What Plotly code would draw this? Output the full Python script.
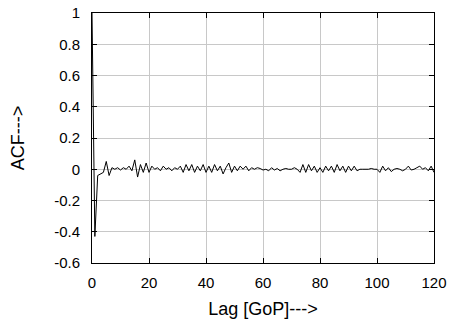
import plotly.graph_objects as go

lags = list(range(0, 121))
acf = [
    1.0, -0.43, -0.04, -0.03, -0.02, 0.05, -0.04, 0.01, 0.0, 0.01,
    -0.005, 0.01, 0.0, 0.02, -0.01, 0.06, -0.05, 0.03, -0.02, 0.04,
    -0.02, 0.02, 0.0, 0.01, -0.01, 0.02, 0.0, 0.01, -0.01, 0.01,
    0.0, 0.02, -0.02, 0.03, -0.01, 0.03, -0.02, 0.02, -0.01, 0.03,
    -0.02, 0.02, -0.02, 0.03, -0.01, 0.02, -0.03, 0.01, 0.04, -0.02,
    0.02, -0.01, 0.02, 0.0, 0.02, -0.01, 0.01, 0.0, 0.01, 0.005,
    -0.005, 0.0, -0.01, 0.01, -0.005, 0.005, -0.01, 0.0, 0.005, 0.0,
    0.0, 0.01, 0.0, -0.02, 0.03, -0.02, 0.03, -0.01, 0.02, -0.02,
    0.01, -0.02, 0.02, -0.01, 0.02, -0.02, 0.03, -0.01, 0.02, -0.02,
    0.02, -0.01, 0.02, -0.01, 0.0, 0.0, 0.0, 0.0, 0.005, 0.0,
    0.0, -0.02, 0.02, -0.01, 0.01, -0.015, 0.0, 0.005, 0.0, -0.01,
    0.0, 0.02, -0.005, 0.0, 0.01, 0.02, 0.0, 0.01, -0.01, 0.02, -0.02,
]
xticks = [0, 20, 40, 60, 80, 100, 120]
yticks = [-0.6, -0.4, -0.2, 0, 0.2, 0.4, 0.6, 0.8, 1]
ytick_labels = ["-0.6", "-0.4", "-0.2", "0", "0.2", "0.4", "0.6", "0.8", "1"]

FONT = "Liberation Sans, Arial"

fig = go.Figure()
fig.add_trace(go.Scatter(x=lags, y=acf, mode="lines",
                         line=dict(color="black", width=1), showlegend=False))

axis_common = dict(showgrid=True, gridcolor="#c8c8c8", gridwidth=1,
                   showline=True, linecolor="black", linewidth=1, mirror="ticks",
                   ticks="inside", ticklen=5, tickcolor="black", zeroline=False,
                   automargin=False,
                   tickfont=dict(family=FONT, size=15, color="black"))

fig.update_layout(
    width=452, height=324,
    margin=dict(l=92, r=18, t=13, b=61),
    paper_bgcolor="white", plot_bgcolor="white",
    font=dict(family=FONT, size=15, color="black"),
    xaxis=dict(range=[0, 120], tickvals=xticks, ticklabelstandoff=6,
               title=dict(text="Lag [GoP]--->", standoff=12), **axis_common),
    yaxis=dict(range=[-0.6, 1], tickvals=yticks, ticktext=ytick_labels,
               ticklabelstandoff=8,
               title=dict(text="ACF--->", standoff=24), **axis_common),
)

fig.write_html("out.html")
